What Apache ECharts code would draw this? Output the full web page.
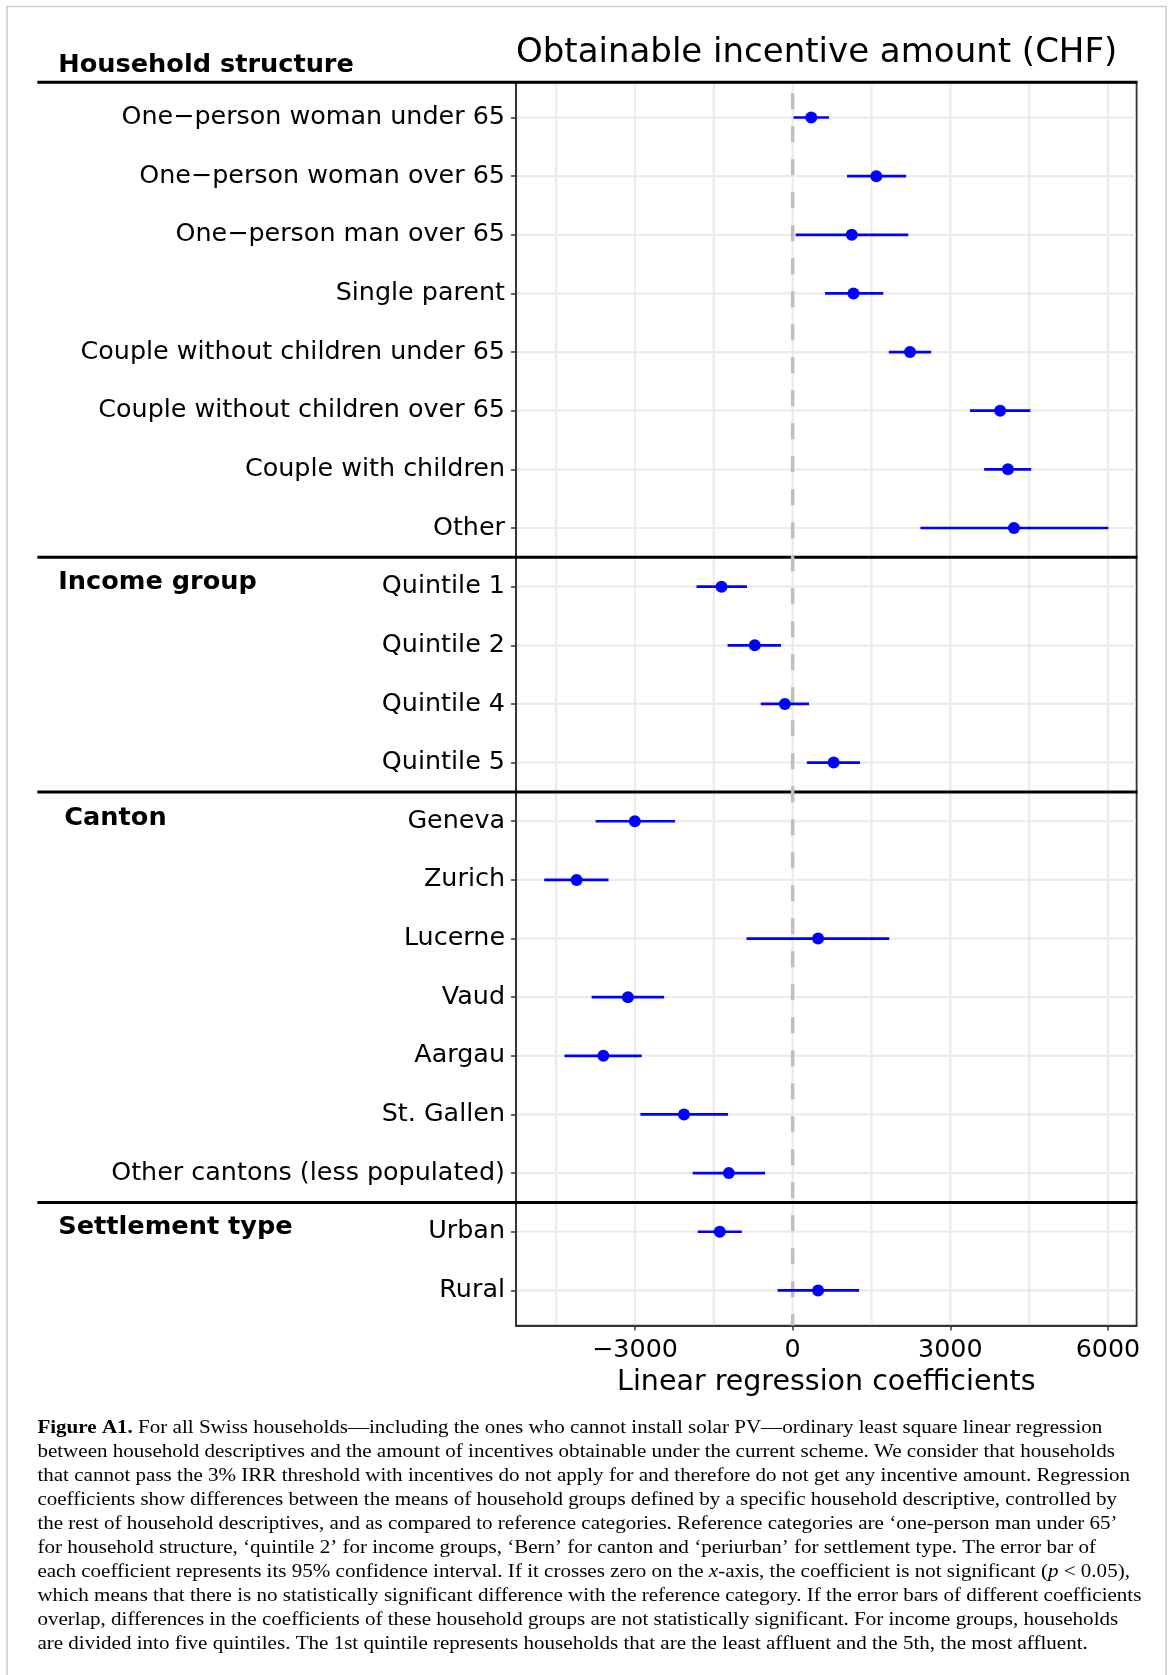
<!DOCTYPE html>
<html><head><meta charset="utf-8">
<script src="https://cdn.jsdelivr.net/npm/echarts@6/dist/echarts.min.js"></script>
<style>html,body{margin:0;padding:0;background:#fff;}#c{width:1175px;height:1675px;}</style>
</head><body><div id="c"></div>
<script>
// ---------- data ----------
const categories = [
  'One\u2212person woman under 65','One\u2212person woman over 65','One\u2212person man over 65','Single parent',
  'Couple without children under 65','Couple without children over 65','Couple with children','Other',
  'Quintile 1','Quintile 2','Quintile 4','Quintile 5',
  'Geneva','Zurich','Lucerne','Vaud','Aargau','St. Gallen','Other cantons (less populated)',
  'Urban','Rural'
];
const estimates = [353,1592,1124,1157,2233,3948,4096,4211, -1354,-722,-148,780, -3004,-4112,484,-3135,-3603,-2068,-1215, -1387,484];
const ciLow     = [16,1034,57,616,1830,3374,3644,2430, -1830,-1239,-607,271, -3751,-4728,-878,-3825,-4342,-2897,-1904, -1806,-287];
const ciHigh    = [690,2159,2200,1724,2635,4523,4539,6008, -870,-222,312,1280, -2241,-3505,1839,-2446,-2873,-1231,-525, -969,1264];
const groupNames  = ['Household structure','Income group','Canton','Settlement type'];
const groupStarts = [0, 8, 12, 19];
const xTicks      = [-3000, 0, 3000, 6000];
const xMinorGrid  = [-4500, -1500, 1500, 4500];
const xMin = -5265, xMax = 6545;
const captionLines = [
  '{b|Figure A1.} For all Swiss households\u2014including the ones who cannot install solar PV\u2014ordinary least square linear regression',
  'between household descriptives and the amount of incentives obtainable under the current scheme. We consider that households',
  'that cannot pass the 3% IRR threshold with incentives do not apply for and therefore do not get any incentive amount. Regression',
  'coefficients show differences between the means of household groups defined by a specific household descriptive, controlled by',
  'the rest of household descriptives, and as compared to reference categories. Reference categories are \u2018one-person man under 65\u2019',
  'for household structure, \u2018quintile 2\u2019 for income groups, \u2018Bern\u2019 for canton and \u2018periurban\u2019 for settlement type. The error bar of',
  'each coefficient represents its 95% confidence interval. If it crosses zero on the {i|x}-axis, the coefficient is not significant ({i|p} < 0.05),',
  'which means that there is no statistically significant difference with the reference category. If the error bars of different coefficients',
  'overlap, differences in the coefficients of these household groups are not statistically significant. For income groups, households',
  'are divided into five quintiles. The 1st quintile represents households that are the least affluent and the 5th, the most affluent.'
];

// ---------- layout / style ----------
const SANS = '"DejaVu Sans", sans-serif';
const SERIF = '"Liberation Serif", serif';
const yMin = -0.6, yMax = categories.length - 0.4;
const rowIdx = categories.map((_, i) => i);
const headerX  = [58.3, 58.3, 64.3, 58.3];
const headerDy = [-16.5, 25, 26, 24.5];
const dividerLeft = 37.4;
const BLUE = '#0000ff';

const chart = echarts.init(document.getElementById('c'));

const captionGraphics = captionLines.map((t, i) => ({
  type: 'text', x: 37.4, y: 1418 + i * 24, scaleX: 1.079, z: 10,
  style: {
    text: t, fill: '#000', font: '19.5px ' + SERIF,
    rich: {
      b: { fontWeight: 'bold', fontFamily: SERIF, fontSize: 19.5, fill: '#000' },
      i: { fontStyle: 'italic', fontFamily: SERIF, fontSize: 19.5, fill: '#000' }
    }
  }
}));

const option = {
  animation: false,
  backgroundColor: '#fff',
  title: {
    text: 'Obtainable incentive amount (CHF)', left: 511, top: 31,
    textStyle: { fontFamily: SANS, fontSize: 34, fontWeight: 'normal', color: '#000' }
  },
  grid: { left: 516, right: 38.4, top: 82.3, bottom: 349.4, show: true, borderColor: '#333', borderWidth: 1.8, backgroundColor: '#fff' },
  xAxis: {
    type: 'value', min: xMin, max: xMax,
    name: 'Linear regression coefficients', nameLocation: 'middle', nameGap: 42,
    nameTextStyle: { fontFamily: SANS, fontSize: 28.5, color: '#000' },
    axisLine: { show: true, onZero: false, lineStyle: { color: '#333', width: 1.8 } },
    axisTick: { show: true, customValues: xTicks, length: 5, lineStyle: { color: '#333', width: 1.5 } },
    axisLabel: { customValues: xTicks, margin: 12, fontFamily: SANS, fontSize: 25.4, color: '#000',
      formatter: v => (v < 0 ? '\u2212' + Math.abs(v) : String(v)) },
    splitLine: { show: false }
  },
  yAxis: {
    type: 'value', inverse: true, min: yMin, max: yMax,
    axisLine: { show: true, onZero: false, lineStyle: { color: '#333', width: 1.8 } },
    axisTick: { show: true, customValues: rowIdx, length: 5, lineStyle: { color: '#333', width: 1.5 } },
    axisLabel: { customValues: rowIdx, margin: 11, fontFamily: SANS, fontSize: 25.4, color: '#000',
      padding: [4, 0, 0, 0],
      formatter: v => categories[Math.round(v)] || '' },
    splitLine: { show: false }
  },
  series: [
    { // horizontal gridlines
      type: 'custom', z: 1, silent: true, clip: false,
      data: rowIdx.map(i => [0, i]), encode: { x: 0, y: 1 },
      renderItem: (params, api) => {
        const cs = params.coordSys; const y = api.coord([0, api.value(1)])[1];
        return { type: 'line', shape: { x1: cs.x + 1, y1: y, x2: cs.x + cs.width - 1, y2: y },
          style: { stroke: '#ebebeb', lineWidth: 2.2 } };
      }
    },
    { // vertical gridlines
      type: 'custom', z: 1, silent: true, clip: false,
      data: xMinorGrid.concat(xTicks).map(v => [v, 0]), encode: { x: 0, y: 1 },
      renderItem: (params, api) => {
        const cs = params.coordSys; const x = api.coord([api.value(0), 0])[0];
        return { type: 'line', shape: { x1: x, y1: cs.y + 1, x2: x, y2: cs.y + cs.height - 1 },
          style: { stroke: '#ebebeb', lineWidth: 2.2 } };
      }
    },
    { // group dividers and headers
      type: 'custom', z: 3, silent: true, clip: false,
      data: groupStarts.map((s, g) => [0, g === 0 ? yMin : s - 0.5, g]), encode: { x: 0, y: 1 },
      renderItem: (params, api) => {
        const cs = params.coordSys; const g = api.value(2);
        const y = api.coord([0, api.value(1)])[1];
        return { type: 'group', children: [
          { type: 'line', shape: { x1: dividerLeft, y1: y, x2: cs.x + cs.width + 0.9, y2: y },
            style: { stroke: '#000', lineWidth: 3 } },
          { type: 'text', x: headerX[g], y: y + headerDy[g],
            style: { text: groupNames[g], fill: '#000', font: 'bold 25.6px ' + SANS, verticalAlign: 'middle', align: 'left' } }
        ] };
      }
    },
    { // zero reference line
      type: 'custom', z: 4, silent: true, clip: false,
      data: [[0, 0]], encode: { x: 0, y: 1 },
      renderItem: (params, api) => {
        const cs = params.coordSys; const x = api.coord([0, 0])[0];
        return { type: 'line', shape: { x1: x, y1: cs.y, x2: x, y2: cs.y + cs.height },
          style: { stroke: '#bfbfbf', lineWidth: 3.5, lineDash: [16, 17], lineDashOffset: 22 } };
      }
    },
    { // confidence intervals
      type: 'custom', z: 5, silent: true,
      data: rowIdx.map(i => [ciLow[i], ciHigh[i], i]), encode: { x: [0, 1], y: 2 },
      renderItem: (params, api) => {
        const p1 = api.coord([api.value(0), api.value(2)]);
        const p2 = api.coord([api.value(1), api.value(2)]);
        return { type: 'line', shape: { x1: p1[0], y1: p1[1], x2: p2[0], y2: p2[1] },
          style: { stroke: BLUE, lineWidth: 2.7 } };
      }
    },
    { // point estimates
      type: 'scatter', z: 6, silent: true, symbol: 'circle', symbolSize: 12,
      itemStyle: { color: BLUE, opacity: 1 },
      data: rowIdx.map(i => [estimates[i], i])
    }
  ],
  graphic: [
    { type: 'polyline', z: 0, silent: true,
      shape: { points: [[7, 1675], [7, 6.5], [1166, 6.5], [1166, 1675]] },
      style: { stroke: '#cccccc', lineWidth: 1.5, fill: null } }
  ].concat(captionGraphics)
};
chart.setOption(option);
</script>
</body></html>
